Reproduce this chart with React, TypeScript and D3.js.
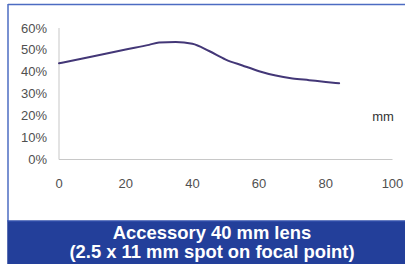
import React from "react";
import * as d3 from "d3";

const distancesMm = [0, 10, 20, 27, 30, 35, 40, 45, 50, 55, 60, 65, 70, 75, 80, 84];
const efficiency = [43.9, 47.0, 50.2, 52.3, 53.4, 53.6, 52.8, 49.5, 45.6, 42.9, 40.3, 38.3, 37.0, 36.2, 35.4, 34.8];
const yTicks = [0, 10, 20, 30, 40, 50, 60];
const xTicks = [0, 20, 40, 60, 80, 100];
const titleLines = ["Accessory 40 mm lens", "(2.5 x 11 mm spot on focal point)"];
const unitLabel = "mm";

export default function App() {
  const W = 405, H = 264;
  const x = d3.scaleLinear().domain([0, 100]).range([59, 392.5]);
  const y = d3.scaleLinear().domain([0, 60]).range([159.5, 28]);
  const pts = distancesMm.map((d, i) => [d, efficiency[i]] as [number, number]);
  const line = d3.line<[number, number]>()
    .x(d => x(d[0]))
    .y(d => y(d[1]))
    .curve(d3.curveMonotoneX);
  const font = "Arial, 'Liberation Sans', Helvetica, sans-serif";
  return (
    <svg width={W} height={H} style={{ position: "absolute", left: 0, top: 0 }} fontFamily={font}>
      <rect x={0} y={0} width={W} height={H} fill="#ffffff" />
      <line x1={8} x2={W} y1={4.5} y2={4.5} stroke="#4d6cc2" strokeWidth={1.5} />
      <line x1={8} x2={8} y1={4} y2={221} stroke="#4d6cc2" strokeWidth={1.5} />
      <rect x={7.25} y={220.5} width={W - 7.25} height={H - 220.5} fill="#233f9a" />
      <line x1={7.25} x2={W} y1={221} y2={221} stroke="#3d5bb5" strokeWidth={1} />
      <line x1={x(0)} x2={x(0)} y1={y(60)} y2={y(0)} stroke="#d0d0d0" strokeWidth={1.2} />
      <line x1={x(0)} x2={x(100)} y1={y(0)} y2={y(0)} stroke="#c8c8c8" strokeWidth={1.2} />
      {yTicks.map(t => (
        <text key={"y" + t} x={47} y={y(t) + 4.5} textAnchor="end" fontSize={13} fill="#505050">
          {t + "%"}
        </text>
      ))}
      {xTicks.map(t => (
        <text key={"x" + t} x={x(t)} y={187.5} textAnchor="middle" fontSize={13} fill="#505050">
          {t}
        </text>
      ))}
      <text x={383} y={120.5} textAnchor="middle" fontSize={13} fill="#333">{unitLabel}</text>
      <path d={line(pts) || ""} fill="none" stroke="#433777" strokeWidth={2} strokeLinecap="round" />
      {titleLines.map((t, i) => (
        <text key={i} x={212} y={239 + i * 19} textAnchor="middle" fontSize={18.4} fontWeight="bold" fill="#ffffff">
          {t}
        </text>
      ))}
    </svg>
  );
}
